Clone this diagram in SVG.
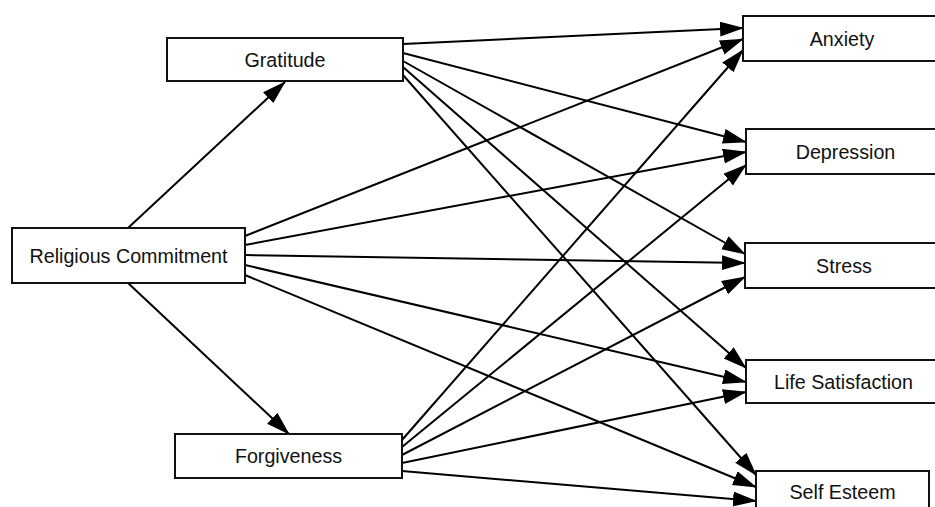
<svg xmlns="http://www.w3.org/2000/svg" width="935" height="507" viewBox="0 0 935 507">
<style>
.box{fill:#fff;stroke:#111;stroke-width:2}
.lbl{font-family:"Liberation Sans",Arial,sans-serif;font-size:19.7px;fill:#111;text-anchor:middle}
.edge{stroke:#000;stroke-width:2;fill:none;marker-end:url(#ah)}
</style>
<defs>
<marker id="ah" markerUnits="userSpaceOnUse" markerWidth="26" markerHeight="16" refX="23" refY="7.5" orient="auto">
<path d="M0,0 L24,7.5 L0,15 z" fill="#000"/>
</marker>
</defs>
<rect width="935" height="507" fill="#fff"/>
<g id="connectors">
<line class="edge" x1="128" y1="228" x2="285" y2="82"/>
<line class="edge" x1="128" y1="283" x2="289" y2="434"/>
<line class="edge" x1="403" y1="44" x2="743" y2="28"/>
<line class="edge" x1="403" y1="53" x2="746" y2="142"/>
<line class="edge" x1="403" y1="61" x2="745" y2="254"/>
<line class="edge" x1="403" y1="67" x2="746" y2="368"/>
<line class="edge" x1="403" y1="75" x2="756" y2="475"/>
<line class="edge" x1="245" y1="236" x2="743" y2="39"/>
<line class="edge" x1="245" y1="245" x2="746" y2="152"/>
<line class="edge" x1="245" y1="255" x2="745" y2="263"/>
<line class="edge" x1="245" y1="265" x2="746" y2="382"/>
<line class="edge" x1="245" y1="275" x2="756" y2="487"/>
<line class="edge" x1="402" y1="440" x2="743" y2="50"/>
<line class="edge" x1="402" y1="447" x2="746" y2="165"/>
<line class="edge" x1="402" y1="455" x2="745" y2="277"/>
<line class="edge" x1="402" y1="463" x2="746" y2="392"/>
<line class="edge" x1="402" y1="471" x2="756" y2="501"/>
</g>
<g id="gratitude"><rect class="box" x="167" y="38" width="236" height="43"/><text class="lbl" x="285" y="66.5">Gratitude</text></g>
<g id="religious-commitment"><rect class="box" x="12" y="228" width="233" height="55"/><text class="lbl" x="128.5" y="262.5">Religious Commitment</text></g>
<g id="forgiveness"><rect class="box" x="175" y="434" width="227" height="44"/><text class="lbl" x="288.5" y="463">Forgiveness</text></g>
<g id="anxiety"><rect class="box" x="743" y="16" width="198" height="45"/><text class="lbl" x="842" y="45.5">Anxiety</text></g>
<g id="depression"><rect class="box" x="746" y="129" width="199" height="45"/><text class="lbl" x="845.5" y="158.5">Depression</text></g>
<g id="stress"><rect class="box" x="745" y="243" width="198" height="45"/><text class="lbl" x="844" y="272.5">Stress</text></g>
<g id="life-satisfaction"><rect class="box" x="746" y="360" width="195" height="43"/><text class="lbl" x="843.5" y="388.5">Life Satisfaction</text></g>
<g id="self-esteem"><rect class="box" x="756" y="471" width="173" height="42"/><text class="lbl" x="842.5" y="499">Self Esteem</text></g>
</svg>
